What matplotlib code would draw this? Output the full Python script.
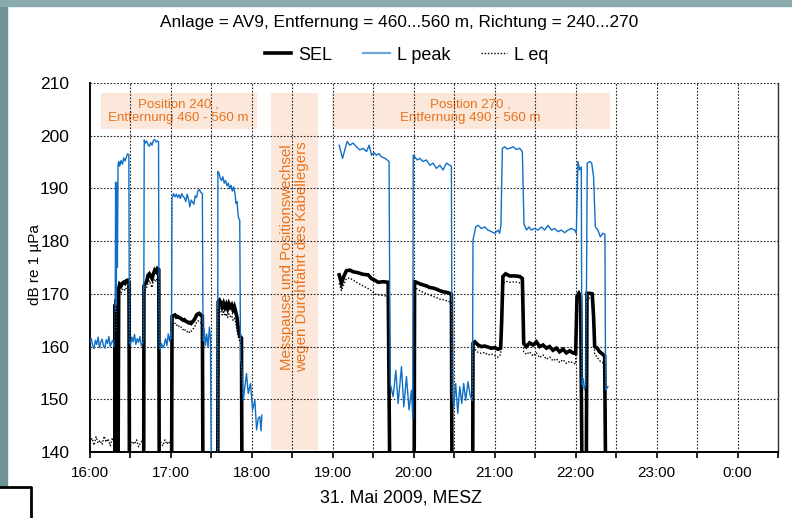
import numpy as np
import matplotlib
matplotlib.use('Agg')
import matplotlib.pyplot as plt
from matplotlib.patches import Rectangle
from matplotlib.lines import Line2D
from matplotlib import font_manager

_avail = {f.name for f in font_manager.fontManager.ttflist}
def pick(names):
    return [n for n in names if n in _avail] + ['DejaVu Sans']
NARROW = pick(['Liberation Sans Narrow', 'Liberation Sans'])
REG = pick(['Liberation Sans'])
plt.rcParams['font.family'] = REG

# ---------------- data (time in minutes after 16:00) ----------------
title = "Anlage = AV9, Entfernung = 460...560 m, Richtung = 240...270"
series_names = ["SEL", "L peak", "L eq"]
tick_labels = ["16:00", "17:00", "18:00", "19:00", "20:00", "21:00", "22:00", "23:00", "0:00"]
y_ticks = [140, 150, 160, 170, 180, 190, 200, 210]

lpeak_t1 = [0, 1, 2, 3, 4, 5, 6, 7, 8, 9, 10, 11, 12, 13, 14, 15, 16, 17, 18, 18.6,
            19.0, 19.4, 19.8, 20.3, 20.8, 21.3, 22, 23, 24, 25, 26, 27, 28, 28.8,
            29.2, 30, 31, 32, 33, 34, 35, 36, 37, 38, 39, 39.8,
            40.2, 41, 42, 43, 44, 45, 46, 47, 48, 49, 50, 50.8,
            51.2, 52, 53, 54, 55, 56, 57, 58, 59, 60, 60.4,
            60.8, 62, 63, 64, 65, 66, 67, 68, 69, 70, 71, 72, 73, 74, 75, 76, 77, 78, 79, 80, 81, 82, 83.3,
            83.8, 84.5, 85.5, 86.5, 87.5, 88.5, 89.3, 90.0, 94.6,
            94.8, 95.5, 96.5, 97.5, 98.5, 99.5, 100.5, 101.5, 102.5, 103.5, 104.5, 105.5, 106.5, 107.5,
            108.2, 109, 109.6, 110.2, 111.0,
            111.6, 112.3, 113.6, 116, 117.3, 119, 120.5, 122.2, 123.5, 124.7, 125.9, 126.8, 127.4]
lpeak_v1 = [160.8, 161.5, 160.2, 159.6, 161.2, 160.4, 161.8, 159.8, 160.9, 161.4, 160.1, 159.7, 161.3, 160.6,
            161.9, 160.0, 160.8, 161.2, 159.9, 160.4,
            191.2, 163.0, 191.0, 175.0, 194.5, 195.1, 194.2, 195.3, 194.6, 195.8, 195.2, 196.0, 196.6, 196.3,
            160.5, 160.3, 161.8, 160.9, 162.3, 160.4, 161.5, 160.8, 161.9, 160.2, 160.6, 161.2,
            199.2, 198.6, 199.0, 198.3, 198.0, 198.7, 198.2, 199.1, 199.3, 198.8, 199.0, 198.9,
            160.0, 159.4, 160.6, 159.8, 160.3, 161.5, 160.2, 162.4, 161.0, 162.8, 161.5,
            188.2, 189.0, 188.4, 188.9, 188.3, 188.8, 188.1, 189.0, 188.5, 188.2, 187.5, 188.9, 188.0, 186.5,
            187.8, 187.4, 187.0, 188.6, 188.3, 189.5, 189.8, 189.3, 189.0,
            161.0, 163.5, 160.2, 162.4, 159.9, 163.7, 161.5, 130.0, 130.0,
            193.2, 193.0, 192.0, 191.5, 192.2, 191.0, 191.5, 190.5, 191.0, 190.0, 190.6, 189.5, 190.3, 189.0,
            187.2, 187.5, 185.5, 184.3, 184.0,
            157.5, 156.8, 149.8, 154.9, 151.1, 153.0, 148.0, 149.8, 144.2, 146.4, 146.7, 144.0, 147.0]

lpeak_t2 = [184.7, 187.2, 188.9, 190.6, 192.6, 195, 197.5, 200, 202.5, 205, 206.9, 208.7, 210.5, 212.4,
            214.2, 216, 218, 219.8, 221.7,
            222.5, 224.7, 226.7, 228.4, 230.9, 232.6, 234.6, 236.5, 238.3, 239.3,
            239.6, 240.7, 242.5, 244.4, 246.9, 249.4, 251.9, 254.3, 256.8, 259.3, 261.7, 264.2, 266.7, 267.9,
            268.4, 269.6, 271.1, 272.6, 274.1, 275.6, 277, 278.5, 280.2, 282, 283.5,
            283.9, 285.9, 287.7, 290.1, 292.6, 295, 297.5, 300, 302.5, 303.7, 304.6,
            305.7, 307.4, 309.2, 311.1, 313.6, 316, 318.5, 320.5,
            321.7, 323.5, 325.4, 327.2, 329.6, 332.1, 334.6, 337, 339.5, 342, 344.4, 346.9, 349.4, 351.9,
            354.3, 356.8, 359.3, 360.5,
            361.7, 363, 364.2, 364.6, 365.5, 366.5, 367.6, 368.6, 370.4, 371.9, 373.3, 374.6, 376.5, 378.3,
            380.2, 381.7, 382.2, 383.9]
lpeak_v2 = [198.2, 195.7, 197.3, 198.9, 198.2, 198.6, 197.9, 197.3, 197.6, 197.0, 198.2, 196.3, 196.8, 196.3,
            196.6, 196.0, 195.8, 195.5, 195.1,
            153.0, 150.5, 155.5, 149.2, 156.2, 148.6, 154.3, 148.0, 151.7, 146.4,
            196.3, 196.0, 195.4, 195.7, 195.1, 195.4, 194.4, 194.8, 193.8, 194.4, 193.5, 194.8, 194.4, 194.2,
            151.4, 148.6, 153.0, 147.3, 152.4, 149.2, 153.0, 149.8, 153.3, 150.5, 149.8,
            180.2, 182.7, 183.0, 182.4, 182.7, 182.1, 181.8, 181.5, 182.1, 181.5, 183.0,
            197.6, 197.9, 197.5, 197.6, 197.9, 197.4, 197.6, 197.0,
            183.3, 182.1, 182.7, 182.1, 182.4, 182.1, 182.7, 182.1, 183.0, 182.1, 182.4, 181.8, 182.1, 181.6,
            182.1, 182.4, 182.1, 181.5,
            195.1, 193.5, 194.1, 152.5, 154.0, 151.8, 153.0, 194.8, 195.1, 194.8, 192.2, 182.7, 182.1, 180.8,
            181.5, 181.3, 151.7, 152.4]

sel_t1 = [0, 18.4, 18.7, 19.1, 19.5, 19.9, 20.3, 20.8, 21.3, 22, 23, 24, 25, 26, 27, 28, 28.9, 29.2,
          39.8, 40.0, 41, 42, 43, 44, 45, 46, 47, 48, 49, 50, 51, 51.3,
          60.5, 60.8, 62, 63, 64, 65, 66, 67, 68, 69, 70, 71, 72, 73, 74, 75, 76, 77, 78, 79, 80, 81, 82, 83.3, 83.7,
          94.7, 95.0, 96, 97, 98, 99, 100, 101, 102, 103, 104, 105, 106, 107, 108, 109, 110, 111, 112.3, 112.6]
sel_v1 = [136, 136, 168.0, 136, 169.0, 136, 169.5, 136, 171.0, 171.8, 171.5, 172.0, 172.2, 172.0, 172.5, 172.6, 172.3, 136,
          136, 171.5, 172.0, 172.3, 173.5, 173.8, 173.4, 172.9, 173.8, 174.5, 174.2, 174.8, 174.6, 136,
          136, 165.7, 165.9, 166.0, 165.6, 165.7, 165.5, 165.4, 165.2, 165.0, 165.1, 164.8, 164.7, 164.5, 164.6,
          164.4, 164.7, 165.0, 165.4, 166.0, 166.2, 166.3, 166.0, 165.8, 136,
          136, 168.5, 168.8, 168.3, 167.5, 168.2, 167.4, 168.0, 167.2, 168.1, 167.5, 167.9, 167.0, 167.6, 166.6,
          165.5, 163.2, 162.0, 161.6, 136]
sel_t2 = [184.7, 186.4, 188.1, 190.1, 192.6, 195, 198.7, 202.5, 206.2, 208.6, 211.1, 213.6, 217.3, 221, 222.2,
          240.3, 240.6, 242, 244.5, 246.9, 249.4, 251.9, 254.3, 256.8, 259.3, 261.7, 264.2, 266.7, 267.9, 268.3,
          283.7, 283.9, 285.2, 287.7, 290.1, 292.6, 295, 297.5, 300, 302.5, 304.4, 305.2, 306.1, 308.1, 311.1,
          314.8, 318.5, 320.5, 321.5,
          323.5, 325.9, 328.4, 330.9, 333.3, 335.8, 338.3, 340.7, 343.2, 345.7, 348.1, 350.6, 353.1, 355.6, 358, 360,
          361, 362.4, 363.7, 364.7, 367.9, 368.4, 370.4, 372.3, 373.3, 374.1, 376, 377.8, 379.8, 381.5, 382.2]
sel_v2 = [173.6, 172.0, 173.3, 174.4, 174.5, 174.2, 174.0, 173.7, 173.6, 172.9, 172.6, 172.2, 172.3, 172.2, 136,
          136, 172.3, 172.2, 171.9, 171.7, 171.5, 171.2, 171.1, 170.9, 170.6, 170.4, 170.3, 170.1, 169.9, 136,
          136, 160.6, 160.9, 160.3, 160.0, 160.1, 159.9, 159.7, 159.8, 159.5, 159.7, 165.0, 173.3, 173.8, 173.4,
          173.4, 173.3, 172.9, 160.6,
          160.0, 160.7, 160.3, 160.9, 160.0, 160.3, 159.7, 160.0, 159.3, 159.7, 159.0, 159.5, 158.8, 159.2, 158.8, 158.7,
          169.5, 170.1, 169.5, 136, 136, 170.1, 170.1, 170.0, 165.7, 160.0, 159.7, 159.0, 158.6, 158.2, 136]

leq_t1 = [0, 1.5, 3, 4.5, 6, 7.5, 9, 10.5, 12, 13.5, 15, 16.5, 18,
          18.4, 18.7, 19.1, 19.5, 19.9, 20.3, 20.8, 21.3, 22, 23, 24, 25, 26, 27, 28, 28.9, 29.2,
          30, 31.5, 33, 34.5, 36, 37.5, 39, 39.8,
          40.0, 41, 42, 43, 44, 45, 46, 47, 48, 49, 50, 51, 51.3,
          52.5, 54, 55.5, 57, 58.5, 60, 60.5,
          60.8, 62, 63, 64, 65, 66, 67, 68, 69, 70, 71, 72, 73, 74, 75, 76, 77, 78, 79, 80, 81, 82, 83.3, 83.7,
          94.7, 95.0, 96, 97, 98, 99, 100, 101, 102, 103, 104, 105, 106, 107, 108, 109, 110, 111, 112.3, 112.6]
leq_v1 = [141.8, 142.6, 141.3, 142.9, 141.7, 142.2, 141.4, 143.0, 141.9, 142.5, 141.2, 142.7, 141.6,
          141.5, 166.5, 141.5, 167.5, 141.5, 168.0, 141.5, 169.5, 170.5, 170.2, 170.8, 171.0, 170.6, 171.2, 171.4, 171.0, 141.5,
          141.2, 142.0, 141.5, 142.3, 141.0, 141.8, 142.2, 141.5,
          170.0, 170.8, 171.2, 172.0, 172.5, 171.8, 171.2, 172.4, 172.8, 172.3, 173.2, 173.0, 141.5,
          141.8, 141.2, 142.3, 141.5, 142.0, 141.3, 141.5,
          164.3, 164.5, 164.4, 164.0, 164.2, 163.8, 163.9, 163.5, 163.2, 163.4, 162.9, 162.8, 163.0, 162.6,
          162.9, 163.3, 163.5, 164.0, 164.6, 164.9, 164.7, 164.5, 164.3, 136,
          136, 167.0, 167.3, 166.8, 166.0, 166.6, 165.8, 166.3, 165.5, 166.2, 165.7, 165.9, 165.0, 165.4, 164.6,
          163.1, 161.8, 161.0, 160.5, 136]
leq_t2 = sel_t2
leq_v2 = [172.0, 170.6, 171.8, 172.9, 173.0, 172.6, 172.0, 171.5, 171.0, 170.6, 170.0, 169.8, 169.7, 169.5, 136,
          136, 171.3, 171.0, 170.6, 170.3, 170.0, 169.8, 169.5, 169.3, 169.0, 168.9, 168.7, 168.5, 168.4, 136,
          136, 159.2, 159.5, 158.9, 158.7, 158.9, 158.4, 158.6, 158.3, 158.0, 158.5, 164.0, 172.0, 172.4, 172.2,
          172.3, 172.1, 171.8, 159.0,
          158.5, 159.0, 158.2, 158.8, 157.9, 158.4, 157.6, 158.0, 157.3, 157.7, 157.0, 157.5, 156.8, 157.2, 156.9, 156.7,
          168.5, 169.0, 168.4, 136, 136, 169.0, 169.2, 169.0, 164.5, 158.6, 158.0, 157.3, 157.0, 156.6, 136]


def join(t1, v1, t2, v2):
    t = np.array(list(t1) + [np.nan] + list(t2), dtype=float)
    v = np.array(list(v1) + [np.nan] + list(v2), dtype=float)
    return t, v

sel_t, sel_v = join(sel_t1, sel_v1, sel_t2, sel_v2)
lp_t, lp_v = join(lpeak_t1, lpeak_v1, lpeak_t2, lpeak_v2)
leq_t, leq_v = join(leq_t1, leq_v1, leq_t2, leq_v2)

# ---------------- figure ----------------
W, H = 792, 518
fig = plt.figure(figsize=(W / 100, H / 100), dpi=100)
fig.patch.set_facecolor('white')

# slide-like decoration around the chart
fig.patches.append(Rectangle((0, 0), 7 / W, 1, transform=fig.transFigure, color='#6d9397', zorder=0))
fig.patches.append(Rectangle((0, 1 - 6 / H), 1, 6 / H, transform=fig.transFigure, color='#8aabad', zorder=0))
fig.patches.append(Rectangle((0, 0), 31 / W, 31 / H, transform=fig.transFigure, color='white', zorder=1))
fig.lines.append(Line2D([0, 31 / W, 31 / W], [1 - 487 / H, 1 - 487 / H, 0], transform=fig.transFigure,
                        color='black', lw=2, zorder=2))

ax = fig.add_axes([90 / W, 1 - 452 / H, (778 - 90) / W, (452 - 83) / H])
ax.set_xlim(0, 510)
ax.set_ylim(140, 210)

# annotation boxes
box_col = '#FCE8DA'
txt_col = '#E8731E'
ax.add_patch(Rectangle((8.1, 201.3), 123.7 - 8.1, 208.1 - 201.3, color=box_col, zorder=1, lw=0))
ax.add_patch(Rectangle((134, 140.3), 168.9 - 134, 208.1 - 140.3, color=box_col, zorder=1, lw=0))
ax.add_patch(Rectangle((179.3, 201.3), 385.2 - 179.3, 208.1 - 201.3, color=box_col, zorder=1, lw=0))
ax.text(65.5, 204.6, "Position 240 ,\nEntfernung 460 - 560 m", ha='center', va='center', color=txt_col,
        fontsize=9.6, family=NARROW, linespacing=1.2, zorder=2)
ax.text(282, 204.6, "Position 270 ,\nEntfernung 490 - 560 m", ha='center', va='center', color=txt_col,
        fontsize=9.6, family=NARROW, linespacing=1.2, zorder=2)
ax.text(151.5, 177.0, "Messpause und Positionswechsel\nwegen Durchfahrt des Kabellegers", ha='center',
        va='center', rotation=90, color=txt_col, fontsize=10.8, family=REG, linespacing=1.1, zorder=2)

# grid
major = np.arange(len(tick_labels)) * 60
ax.set_xticks(major)
ax.set_xticklabels(tick_labels)
ax.set_xticks(list(major[:-1] + 30) + [510], minor=True)
ax.set_yticks(y_ticks)
ax.grid(True, which='both', axis='x', color='#222222', lw=0.8, ls=(0, (1.5, 1.5)), zorder=1.5)
ax.grid(True, which='major', axis='y', color='#222222', lw=0.8, ls=(0, (1.5, 1.5)), zorder=1.5)
ax.set_axisbelow(False)

# series
ax.plot(sel_t, sel_v, color='black', lw=2.6, zorder=3, label=series_names[0], solid_joinstyle='miter')
ax.plot(lp_t, lp_v, color='#0F6FC6', lw=1.0, zorder=4, label=series_names[1])
ax.plot(leq_t, leq_v, color='black', lw=1.0, ls=(0, (1, 1.3)), zorder=5, label=series_names[2])

# axes styling
ax.spines['top'].set_visible(False)
ax.spines['left'].set_linewidth(1.4)
ax.spines['bottom'].set_linewidth(1.4)
ax.spines['right'].set_linewidth(1.0)
ax.spines['right'].set_color('#333333')
ax.tick_params(axis='y', length=0, pad=15, labelsize=12.5)
ax.tick_params(axis='x', which='both', direction='out', length=4, width=1.2, pad=6, labelsize=11)
for lab in ax.get_yticklabels() + ax.get_xticklabels():
    lab.set_family(REG)

fig.text(399 / W, 1 - 22 / H, title, ha='center', va='center', fontsize=12.4, family=NARROW)
fig.text(401 / W, 1 - 498 / H, "31. Mai 2009, MESZ", ha='center', va='center', fontsize=12.8, family=NARROW)
fig.text(35 / W, 1 - 265 / H, "dB re 1 µPa", ha='center', va='center', rotation=90, fontsize=11, family=REG)

handles = [Line2D([], [], color='black', lw=2.6),
           Line2D([], [], color='#6FA8DC', lw=1.6),
           Line2D([], [], color='black', lw=1.0, ls=(0, (1, 1.3)))]
fig.legend(handles, series_names, ncol=3, loc='center', bbox_to_anchor=(407 / W, 1 - 55 / H),
           frameon=False, handlelength=1.45, columnspacing=1.7, handletextpad=0.4,
           prop={'family': NARROW, 'size': 13})

fig.savefig('out.png', dpi=100)
